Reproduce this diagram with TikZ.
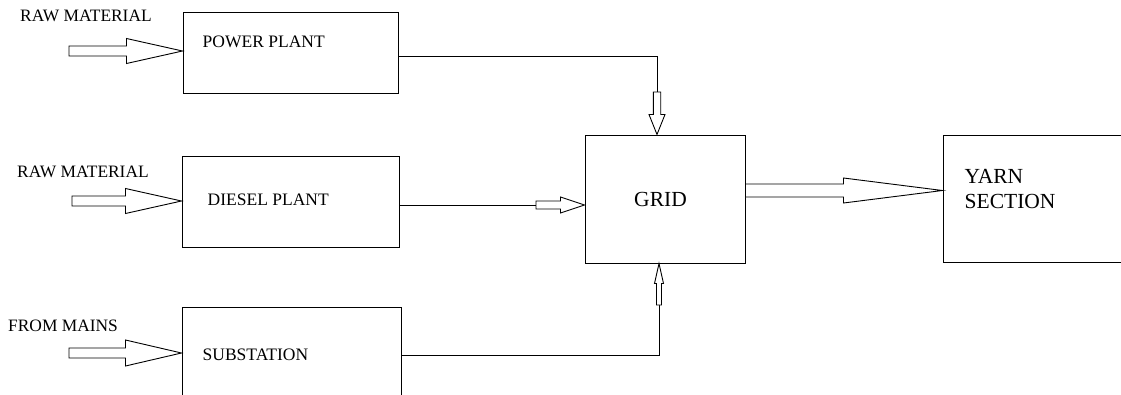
\documentclass[tikz,border=0pt]{standalone}
\usepackage{fontspec}
\setmainfont{Liberation Serif}
\usetikzlibrary{calc,positioning}
\tikzset{
  block/.style={draw,line width=1pt,inner sep=0pt},
  boxtext/.style={font=\fontsize{17.5}{21}\selectfont,inner sep=0pt,anchor=west},
  bigtext/.style={font=\fontsize{21.5}{25}\selectfont,inner sep=0pt,align=left},
  inlabel/.style={font=\fontsize{17.4}{21}\selectfont,inner sep=0pt,anchor=west},
  wire/.style={line width=1pt},
  blockarrow/.style={draw,line width=0.9pt,fill=white,line join=miter}
}
% tail, tip, shaft half width, head half width, head length
\newcommand{\blockarrow}[5]{%
  \coordinate (ah) at ($(#2)!#5!(#1)$);
  \draw[blockarrow] ($(#1)!#3!90:(#2)$) -- ($(ah)!#3!90:(#2)$)
    -- ($(ah)!#4!90:(#2)$) -- (#2) -- ($(ah)!#4!-90:(#2)$)
    -- ($(ah)!#3!-90:(#2)$) -- ($(#1)!#3!-90:(#2)$) -- cycle;
}

\begin{document}
\begin{tikzpicture}[x=1pt,y=-1pt]
  \useasboundingbox (0,0) rectangle (1121,394);
  % blocks
  \node[block,minimum width=215pt,minimum height=81pt] (pp) at (290.5,52.5) {};
  \node[block,minimum width=217pt,minimum height=91pt] (dp) at (290.5,201.5) {};
  \node[block,minimum width=219pt,minimum height=93pt] (sub) at (291.5,353.5) {};
  \node[block,minimum width=160pt,minimum height=128pt] (grid) at (665,199) {};
  \node[block,minimum width=183pt,minimum height=127pt] (yarn) at (1034.5,198.5) {};
  \node[boxtext] (pptext) at ([xshift=20pt,yshift=-30pt]pp.north west) {POWER PLANT};
  \node[boxtext] (dptext) at ([xshift=26pt,yshift=-44pt]dp.north west) {DIESEL PLANT};
  \node[boxtext] (subtext) at ([xshift=21pt,yshift=-48pt]sub.north west) {SUBSTATION};
  \node[bigtext] (gridtext) at ([xshift=-4.5pt]grid.center) {GRID};
  \node[bigtext,anchor=west] (yarntext) at ([xshift=22pt,yshift=-55pt]yarn.north west) {YARN\\SECTION};
  % inputs
  \node[inlabel] (rm1) at (20,16) {RAW MATERIAL};
  \node[inlabel] (rm2) at (17,172) {RAW MATERIAL};
  \node[inlabel] (mains) at (8,326) {FROM MAINS};
  \coordinate (in1) at (69,51);
  \coordinate (in2) at (72,201);
  \coordinate (in3) at (69,353);
  \coordinate (in1tip) at (in1 -| pp.west);
  \coordinate (in2tip) at (in2 -| dp.west);
  \coordinate (in3tip) at (in3 -| sub.west);
  \blockarrow{in1}{in1tip}{5pt}{12.5pt}{56pt}
  \blockarrow{in2}{in2tip}{5pt}{12.5pt}{56pt}
  \blockarrow{in3}{in3tip}{5pt}{13pt}{56pt}
  % feeds into the grid
  \coordinate (ppdrop) at (657,92);
  \coordinate (gtop) at (ppdrop |- grid.north);
  \draw[wire] ([yshift=-3.5pt]pp.east) -| (ppdrop);
  \blockarrow{ppdrop}{gtop}{3.7pt}{8pt}{20pt}
  \coordinate (dpend) at (536,205);
  \coordinate (gwest) at (dpend -| grid.west);
  \draw[wire] ([yshift=-3.5pt]dp.east) -- (dpend);
  \blockarrow{dpend}{gwest}{4pt}{8pt}{24pt}
  \coordinate (subrise) at (659,305);
  \coordinate (gbot) at (subrise |- grid.south);
  \draw[wire] ([yshift=-1.5pt]sub.east) -| (subrise);
  \blockarrow{subrise}{gbot}{2.5pt}{4.5pt}{20pt}
  % output
  \coordinate (gout) at ([yshift=8.5pt]grid.east);
  \coordinate (yin) at (gout -| yarn.west);
  \blockarrow{gout}{yin}{6.5pt}{12.5pt}{99pt}
\end{tikzpicture}
\end{document}
